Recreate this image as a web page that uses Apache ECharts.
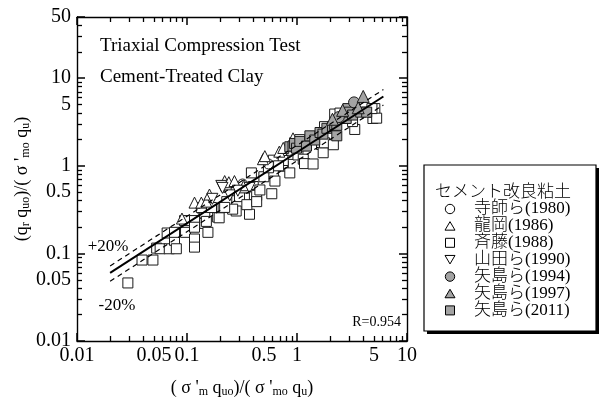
<!DOCTYPE html>
<html><head><meta charset="utf-8">
<script src="https://cdn.jsdelivr.net/npm/echarts@6/dist/echarts.min.js"></script>
<style>html,body{margin:0;padding:0;background:#fff}#c{width:603px;height:403px}</style>
</head><body><div id="c"></div><script>
const SERIF = "'Liberation Serif','Times New Roman',serif";

// ---- texts ----
const legendTitle = 'セメント改良粘土';
const seriesNames = ['寺師ら(1980)', '龍岡(1986)', '斉藤(1988)', '山田ら(1990)', '矢島ら(1994)', '矢島ら(1997)', '矢島ら(2011)'];
const chartNotes = ['Triaxial Compression Test', 'Cement-Treated Clay'];
const plusLabel = '+20%';
const minusLabel = '-20%';
const rLabel = 'R=0.954';

// ---- axis tick labels ----
const xTickLabels = [0.01, 0.05, 0.1, 0.5, 1, 5, 10];
const yTickLabels = [0.01, 0.05, 0.1, 0.5, 1, 5, 10, 50];

// ---- data [x, y] ----
const terashi1980 = [[0.32,0.62],[0.55,1.05],[0.85,1.5]];
const tatsuoka1986 = [[0.117,0.38],[0.135,0.38],[0.15,0.39],[0.16,0.47],[0.22,0.67],[0.24,0.65],[0.27,0.67],[0.33,0.60],[0.49,1.19],[0.51,1.29],[0.69,1.45],[0.75,1.6],[0.92,2.06],[0.09,0.25]];
const saito1988 = [[0.029,0.046],[0.039,0.084],[0.049,0.084],[0.053,0.115],[0.057,0.113],[0.066,0.171],[0.069,0.113],[0.077,0.141],[0.080,0.113],[0.077,0.174],[0.097,0.174],[0.095,0.237],[0.117,0.237],[0.117,0.146],[0.117,0.118],[0.117,0.199],[0.14,0.32],[0.145,0.22],[0.155,0.174],[0.145,0.29],[0.19,0.26],[0.135,0.334],[0.167,0.334],[0.213,0.334],[0.28,0.305],[0.37,0.28],[0.36,0.43],[0.23,0.39],[0.28,0.52],[0.30,0.445],[0.385,0.83],[0.40,0.58],[0.41,0.47],[0.43,0.46],[0.35,0.36],[0.43,0.39],[0.46,0.53],[0.59,0.48],[0.61,1.16],[0.61,0.85],[0.63,0.67],[0.75,0.99],[0.75,1.15],[0.86,0.83],[0.92,1.35],[0.95,1.83],[1.02,1.33],[1.14,1.19],[1.17,1.06],[1.40,1.05],[1.06,1.99],[1.67,1.75],[1.73,1.41],[1.78,1.83],[1.78,2.8],[2.14,1.74],[2.2,3.9],[2.46,4.0],[3.35,2.6],[3.2,3.2],[4.9,3.47],[4.9,4.1],[5.1,4.5],[5.3,3.5],[4.8,4.5],[0.26,0.32],[0.22,0.335],[0.196,0.255],[0.15,0.232],[0.33,0.56],[0.5,0.75],[0.55,0.95],[0.68,1.0]];
const yamada1990 = [[0.205,0.59],[0.21,0.56],[0.245,0.46],[0.29,0.52],[0.37,0.56],[0.17,0.42]];
const yajima1994 = [[2.4,3.6],[3.3,5.3]];
const yajima1997 = [[2.1,3.4],[2.6,4.3],[3.6,4.6],[4.0,6.2]];
const yajima2011 = [[0.86,1.65],[0.92,1.68],[0.95,1.8],[0.99,1.59],[1.06,1.9],[1.22,1.68],[1.31,2.2],[1.45,1.97],[1.62,2.4],[1.72,2.3],[1.87,2.68],[2.1,2.8],[2.2,2.95],[2.3,2.9],[2.3,2.2],[2.8,3.47],[2.9,4.5],[3.0,4.1],[3.2,3.8],[3.8,4.1],[4.3,4.1]];

const fitLine = [[0.02,0.060],[6.1,6.18]];
const upperLine = [[0.02,0.072],[6.1,7.42]];
const lowerLine = [[0.02,0.048],[6.1,4.94]];

// ---- styles ----
const GRAY = '#a3a3a3';
const markStyles = [
  {symbol:'circle', size:10, fill:'#fff', rotate:0},
  {symbol:'triangle', size:11, fill:'#fff', rotate:0},
  {symbol:'rect', size:10, fill:'#fff', rotate:0},
  {symbol:'triangle', size:11, fill:'#fff', rotate:180},
  {symbol:'circle', size:11, fill:GRAY, rotate:0},
  {symbol:'triangle', size:12, fill:GRAY, rotate:0},
  {symbol:'rect', size:10, fill:GRAY, rotate:0}
];
const seriesData = [terashi1980, tatsuoka1986, saito1988, yamada1990, yajima1994, yajima1997, yajima2011];
const drawOrder = [2, 0, 1, 3, 6, 4, 5];

const fmt = v => String(parseFloat(Number(v).toPrecision(6)));

function axis(kind, pos, withLabels) {
  const isX = kind === 'x';
  const a = {
    type:'log', logBase:10, min:0.01, max: isX ? 10 : 50, position:pos,
    axisLine:{show:true, onZero:false, lineStyle:{color:'#000', width:1.4}},
    axisTick:{show:true, inside:true, length:8, lineStyle:{color:'#000', width:1.5}},
    minorTick:{show:true, splitNumber:9, length:5, lineStyle:{color:'#000', width:1.3}},
    splitLine:{show:false},
    axisLabel:{show:false}
  };
  if (withLabels) {
    a.axisLabel = {show:true, customValues: isX ? xTickLabels : yTickLabels, formatter: v => fmt(v),
      fontFamily:SERIF, fontSize:20, color:'#000', margin: isX ? 5 : 6, hideOverlap:false};
    const rich = {s:{fontFamily:SERIF, fontSize:12, lineHeight:10, verticalAlign:'bottom', color:'#000'}};
    a.nameMoveOverlap = false;
    if (isX) {
      a.name = "( σ '{s|m} q{s|uo})/( σ '{s|mo} q{s|u})";
      a.nameLocation = 'middle'; a.nameGap = 37;
    } else {
      a.name = "(q{s|r} q{s|uo})/( σ '{s|mo} q{s|u})";
      a.nameLocation = 'middle'; a.nameGap = 45; a.nameRotate = 90;
    }
    a.nameTextStyle = {fontFamily:SERIF, fontSize:18, color:'#000', lineHeight:20, rich};
  }
  return a;
}

const series = drawOrder.map(i => ({
  name: seriesNames[i], type:'scatter', data: seriesData[i],
  symbol: markStyles[i].symbol, symbolSize: markStyles[i].size, symbolRotate: markStyles[i].rotate,
  itemStyle:{color: markStyles[i].fill, borderColor:'#1a1a1a', borderWidth:1, opacity:1},
  emphasis:{disabled:true}, z:2
}));
series.push({type:'line', data:fitLine, symbol:'none', silent:true, z:4, lineStyle:{color:'#000', width:2}});
series.push({type:'line', data:upperLine, symbol:'none', silent:true, z:4, lineStyle:{color:'#000', width:1.2, type:[5,4]}});
series.push({type:'line', data:lowerLine, symbol:'none', silent:true, z:4, lineStyle:{color:'#000', width:1.2, type:[5,4]}});

// legend graphics
const LX = 424, LY = 165, LW = 172, LH = 166;
const legendGraphics = [
  {type:'rect', shape:{x:LX+3, y:LY+3, width:LW, height:LH}, style:{fill:'#000'}, z:10, silent:true},
  {type:'rect', shape:{x:LX, y:LY, width:LW, height:LH}, style:{fill:'#fff', stroke:'#000', lineWidth:1.2}, z:11, silent:true},
  {type:'text', x:435, y:191, style:{text:legendTitle, font:"300 17px 'Noto Sans CJK JP'", fill:'#000', verticalAlign:'middle'}, z:12, silent:true}
];
function legendIcon(i, cx, cy) {
  const s = markStyles[i];
  const st = {fill:s.fill, stroke:'#000', lineWidth:1};
  if (s.symbol === 'circle') return {type:'circle', shape:{cx, cy, r:4.7}, style:st, z:12, silent:true};
  if (s.symbol === 'rect') return {type:'rect', shape:{x:cx-4.5, y:cy-4.5, width:9, height:9}, style:st, z:12, silent:true};
  const h = 8.5, w = 10;
  const pts = s.rotate ? [[cx-w/2, cy-h/2],[cx+w/2, cy-h/2],[cx, cy+h/2]] : [[cx, cy-h/2],[cx+w/2, cy+h/2],[cx-w/2, cy+h/2]];
  return {type:'polygon', shape:{points:pts}, style:st, z:12, silent:true};
}
seriesNames.forEach((n, i) => {
  const y = 209 + i * 16.9;
  legendGraphics.push(legendIcon(i, 450, y));
  legendGraphics.push({type:'text', x:474, y:y, style:{text:n, font:"300 17px 'Liberation Serif','Noto Sans CJK JP'", fill:'#000', verticalAlign:'middle'}, z:12, silent:true});
});

const textGraphics = [
  {type:'text', x:100, y:46, style:{text:chartNotes[0], font:"19px 'Liberation Serif'", fill:'#000', verticalAlign:'middle'}, silent:true},
  {type:'text', x:100, y:77, style:{text:chartNotes[1], font:"19px 'Liberation Serif'", fill:'#000', verticalAlign:'middle'}, silent:true},
  {type:'text', x:108, y:247, style:{text:plusLabel, font:"17px 'Liberation Serif'", fill:'#000', align:'center', verticalAlign:'middle'}, silent:true},
  {type:'text', x:117, y:306, style:{text:minusLabel, font:"17px 'Liberation Serif'", fill:'#000', align:'center', verticalAlign:'middle'}, silent:true},
  {type:'text', x:401, y:322, style:{text:rLabel, font:"14px 'Liberation Serif'", fill:'#000', align:'right', verticalAlign:'middle'}, silent:true}
];

const chart = echarts.init(document.getElementById('c'), null, {renderer:'canvas'});
chart.setOption({
  animation:false,
  backgroundColor:'#fff',
  grid:{left:77, top:17, width:330, height:328},
  xAxis:[axis('x','bottom',true), axis('x','top',false)],
  yAxis:[axis('y','left',true), axis('y','right',false)],
  series,
  graphic: textGraphics.concat(legendGraphics)
});
</script></body></html>
